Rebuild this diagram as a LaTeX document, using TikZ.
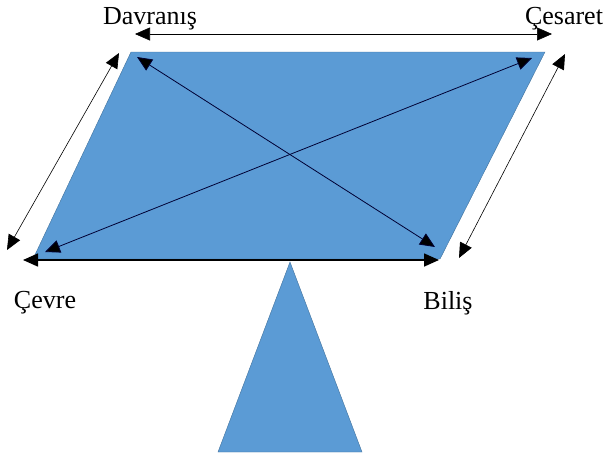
\documentclass[tikz,border=0pt]{standalone}
\usepackage{fontspec}
\setmainfont{Liberation Serif}
\usetikzlibrary{arrows.meta}
\definecolor{boardblue}{HTML}{5B9BD5}
\definecolor{boardedge}{HTML}{41719C}

\begin{document}
\begin{tikzpicture}[x=1pt,y=-1pt,
  word/.style={font=\fontsize{26}{30}\selectfont},
  link/.style={{Triangle[length=15pt,width=13pt,fill=black]}-{Triangle[length=15pt,width=13pt,fill=black]}, semithick}]
  \useasboundingbox (0,0) rectangle (611,456);
  % board and stand
  \coordinate (tl) at (131,52);
  \coordinate (tr) at (545,52);
  \coordinate (br) at (440,259);
  \coordinate (bl) at (33,259);
  \filldraw[fill=boardblue,draw=boardedge] (tl) -- (tr) -- (br) -- (bl) -- cycle;
  \filldraw[fill=boardblue,draw=boardedge] (290,262) -- (362,452) -- (218,452) -- cycle;
  % labels
  \node[word] (dav) at (150,19) {Davranış};
  \node[word] (ces) at (564,19) {Çesaret};
  \node[word] (cev) at (45,303) {Çevre};
  \node[word] (bil) at (448,303) {Biliş};
  % arrow ends
  \coordinate (t1) at (135,34);
  \coordinate (t2) at (552,34);
  \coordinate (l1) at (7,250);
  \coordinate (l2) at (119,53);
  \coordinate (r1) at (459,258);
  \coordinate (r2) at (565,54);
  \coordinate (b1) at (23,260);
  \coordinate (b2) at (439,260);
  \coordinate (d1) at (137,57);
  \coordinate (d2) at (435,247);
  \coordinate (e1) at (45,252);
  \coordinate (e2) at (532,58);
  \draw[link] (t1) -- (t2);
  \draw[link] (l1) -- (l2);
  \draw[link] (r1) -- (r2);
  \draw[link, line width=1.6pt] (b1) -- (b2);
  \draw[link, draw=black!80!blue, thick] (d1) -- (d2);
  \draw[link, draw=black!80!blue, thick] (e1) -- (e2);
\end{tikzpicture}
\end{document}
